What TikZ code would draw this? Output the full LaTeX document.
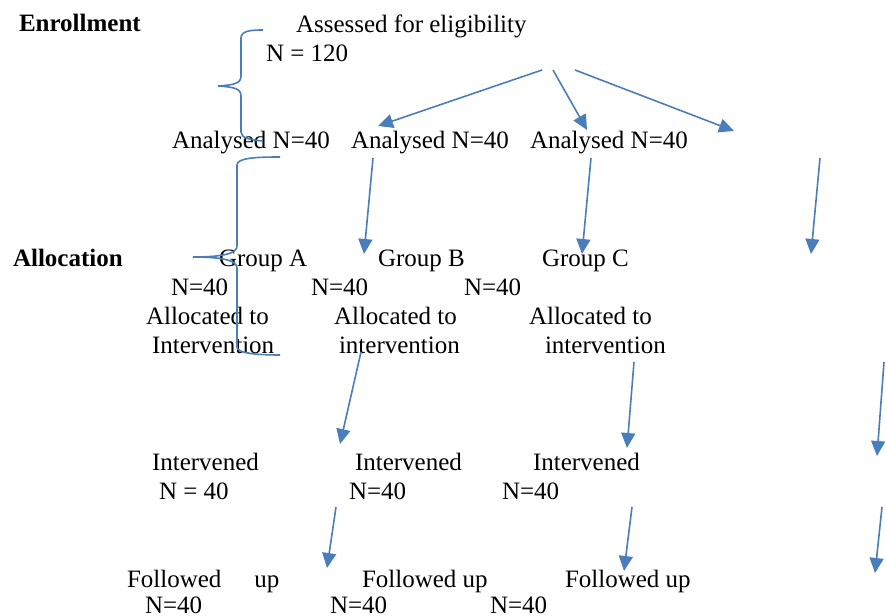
\documentclass[tikz,border=0pt]{standalone}
\usepackage{fontspec}
\setmainfont{Liberation Serif}
\usetikzlibrary{arrows.meta}
\definecolor{offblue}{RGB}{74,126,187}
\begin{document}
\begin{tikzpicture}[x=1bp,y=-1bp,
  lbl/.style={anchor=base west,inner sep=0pt,outer sep=0pt,font=\fontsize{25.1}{30}\selectfont},
  hd/.style={lbl,font=\fontsize{25.1}{30}\selectfont\bfseries},
  arr/.style={draw=offblue,line width=1.6bp,-{Triangle[length=15bp,width=14bp]},fill=offblue},
  brc/.style={draw=offblue,line width=1.6bp}]
\useasboundingbox (0,0) rectangle (886,616);
% headings
\node[hd] (enr) at (19,32) {Enrollment};
\node[hd] (alc) at (13,266) {Allocation};
% top
\node[lbl] (ass) at (296,33) {Assessed for eligibility};
\node[lbl] (n120) at (266,62) {N = 120};
% analysed
\node[lbl] (an1) at (172,149) {Analysed N=40};
\node[lbl] (an2) at (351,149) {Analysed N=40};
\node[lbl] (an3) at (530,149) {Analysed N=40};
% groups
\node[lbl] (ga) at (219,266) {Group A};
\node[lbl] (gb) at (378,266) {Group B};
\node[lbl] (gc) at (542,266) {Group C};
\node[lbl] (gan) at (171,295) {N=40};
\node[lbl] (gbn) at (311,295) {N=40};
\node[lbl] (gcn) at (464,295) {N=40};
\node[lbl] (al1) at (146,324) {Allocated to};
\node[lbl] (al1b) at (152,353) {Intervention};
\node[lbl] (al2) at (334,324) {Allocated to};
\node[lbl] (al2b) at (339,353) {intervention};
\node[lbl] (al3) at (529,324) {Allocated to};
\node[lbl] (al3b) at (545,353) {intervention};
% intervened
\node[lbl] (iv1) at (152,470) {Intervened};
\node[lbl] (iv1n) at (159,499) {N = 40};
\node[lbl] (iv2) at (355,470) {Intervened};
\node[lbl] (iv2n) at (349,499) {N=40};
\node[lbl] (iv3) at (533,470) {Intervened};
\node[lbl] (iv3n) at (502,499) {N=40};
% followed up
\node[lbl] (fu1) at (127,587) {Followed\hspace{33bp}up};
\node[lbl] (fu1n) at (145,613) {N=40};
\node[lbl] (fu2) at (362,587) {Followed up};
\node[lbl] (fu2n) at (330,613) {N=40};
\node[lbl] (fu3) at (565,587) {Followed up};
\node[lbl] (fu3n) at (490,613) {N=40};
% arrow end points
\coordinate (s1) at (542,70);  \coordinate (t1) at (378,126);
\coordinate (s2) at (553,70);  \coordinate (t2) at (587,130);
\coordinate (s3) at (575,70);  \coordinate (t3) at (734,131);
\coordinate (s4) at (373,158); \coordinate (t4) at (364,254);
\coordinate (s5) at (591,158); \coordinate (t5) at (582,254);
\coordinate (s6) at (820,158); \coordinate (t6) at (811,254);
\coordinate (s7) at (361,352); \coordinate (t7) at (340,444);
\coordinate (s8) at (634,362); \coordinate (t8) at (627,448);
\coordinate (s9) at (884,362); \coordinate (t9) at (877,456);
\coordinate (s10) at (336,507); \coordinate (t10) at (327,568);
\coordinate (s11) at (632,507); \coordinate (t11) at (624,571);
\coordinate (s12) at (882,507); \coordinate (t12) at (875,573);
\foreach \i in {1,...,12} {\draw[arr] (s\i) -- (t\i);}
% braces
\draw[brc] (263,30) .. controls (250,30) and (241,31) .. (241,38) -- (241,76)
  .. controls (241,83) and (235,85) .. (218,86)
  .. controls (235,87) and (241,89) .. (241,96) -- (241,132)
  .. controls (241,138) and (250,140) .. (263,141);
\draw[brc] (280,157) .. controls (255,157) and (237,158) .. (237,165) -- (237,246)
  .. controls (237,253) and (225,257) .. (193,257)
  .. controls (225,257) and (237,261) .. (237,268) -- (237,347)
  .. controls (237,353) and (255,355) .. (280,355);
\end{tikzpicture}
\end{document}
